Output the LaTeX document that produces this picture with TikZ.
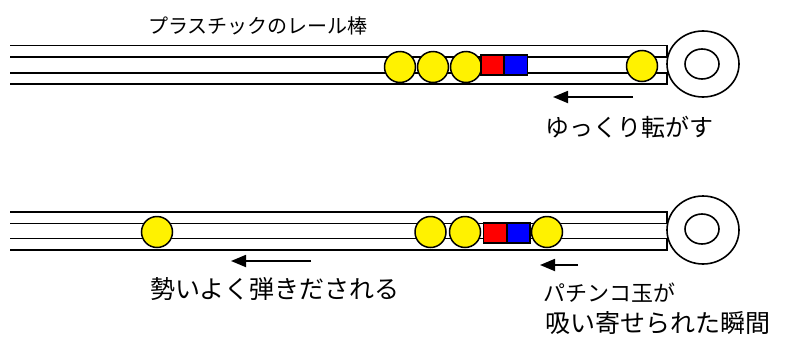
\documentclass[tikz,border=0pt]{standalone}
\usepackage{fontspec}
\newfontfamily\jpfont{Noto Sans CJK JP}
\usetikzlibrary{arrows.meta}

\tikzset{
  rail/.style={line width=1.6pt, fill=white},
  ring/.style={line width=1.6pt, fill=white},
  ball/.style={circle, draw, line width=1.5pt, fill=yellow, minimum size=31pt, inner sep=0pt},
  magnet/.style={draw, line width=1.4pt, minimum width=23pt, minimum height=20pt, inner sep=0pt},
  push/.style={line width=1.8pt, -{Triangle[length=15pt,width=12pt]}},
  label/.style={anchor=west, inner sep=0pt, font=\jpfont}
}

\begin{document}
\begin{tikzpicture}[x=1pt, y=-1pt]
    \useasboundingbox (0,0) rectangle (798,338);

    % Rings at the end of the rails
    \draw[ring] (703,64) ellipse [x radius=36, y radius=33];
    \draw[line width=1.6pt] (702,64) ellipse [x radius=17, y radius=15];
    \draw[ring] (703,230) ellipse [x radius=36, y radius=34];
    \draw[line width=1.6pt] (702,229) ellipse [x radius=17, y radius=15];

    % Rails (two bars each, closed at the right)
    \foreach \top/\bot in {45.5/57, 73/84, 212/223.5, 238.5/250} {
        \draw[rail] (10,\top) -- (667,\top) -- (667,\bot) -- (10,\bot);
    }

    % Upper rail: balls and magnet
    \foreach \x [count=\i] in {400,433,466} {
        \node[ball] (ua\i) at (\x,67) {};
    }
    \node[magnet, fill=red] (ured) at (492.5,65) {};
    \node[magnet, fill=blue] (ublue) at (516,65) {};
    \node[ball] (uball) at (642,66) {};

    % Lower rail: balls and magnet
    \node[ball] (lfree) at (157,232) {};
    \foreach \x [count=\i] in {430.5,465} {
        \node[ball] (la\i) at (\x,232) {};
    }
    \node[magnet, fill=red] (lred) at (495,233) {};
    \node[magnet, fill=blue] (lblue) at (518.5,233) {};
    \node[ball] (lball) at (547,232) {};

    % Arrows
    \coordinate (a1s) at (633,97);
    \coordinate (a1e) at (553,97);
    \coordinate (a2s) at (311,261);
    \coordinate (a2e) at (231,261);
    \coordinate (a3s) at (578,265);
    \coordinate (a3e) at (540,265);
    \draw[push] (a1s) -- (a1e);
    \draw[push] (a2s) -- (a2e);
    \draw[push] (a3s) -- (a3e);

    % Labels
    \node[label, font=\jpfont\fontsize{20}{22}\selectfont] (title) at (148,26) {プラスチックのレール棒};
    \node[label, font=\jpfont\fontsize{24}{26}\selectfont] (slow) at (545,127) {ゆっくり転がす};
    \node[label, font=\jpfont\fontsize{25}{27}\selectfont] (shot) at (150,289) {勢いよく弾きだされる};
    \node[label, font=\jpfont\fontsize{22}{24}\selectfont] (pin1) at (543,293) {パチンコ玉が};
    \node[label, font=\jpfont\fontsize{25}{27}\selectfont] (pin2) at (545,323) {吸い寄せられた瞬間};
\end{tikzpicture}
\end{document}
